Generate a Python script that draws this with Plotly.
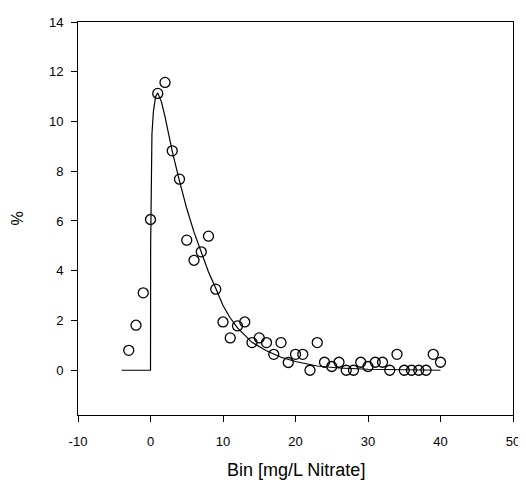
import plotly.graph_objects as go

# observed percentages per nitrate bin
bins = list(range(-3, 41))
pct = [
    0.80, 1.81, 3.11, 6.06, 11.13, 11.57, 8.82, 7.68, 5.23, 4.42,
    4.76, 5.39, 3.26, 1.94, 1.30, 1.78, 1.94, 1.11, 1.30, 1.11,
    0.64, 1.11, 0.31, 0.64, 0.64, 0.00, 1.11, 0.32, 0.15, 0.32,
    0.00, 0.00, 0.32, 0.15, 0.32, 0.32, 0.00, 0.64, 0.00, 0.00,
    0.00, 0.00, 0.64, 0.32,
]

# fitted curve
fit_x = [-4, 0, 0.02, 0.08, 0.2, 0.4, 0.7, 1.0, 1.5, 2, 3, 4, 5, 6, 7, 8, 9,
         10, 11, 12, 14, 16, 18, 20, 23, 26, 30, 35, 40]
fit_y = [0, 0, 5.0, 8.0, 9.5, 10.4, 11.0, 11.15, 10.8, 10.2, 8.8, 7.6, 6.5,
         5.55, 4.75, 3.95, 3.3, 2.6, 2.1, 1.7, 1.12, 0.78, 0.52, 0.35, 0.17,
         0.09, 0.04, 0.01, 0.0]

x_ticks = [-10, 0, 10, 20, 30, 40, 50]
y_ticks = [0, 2, 4, 6, 8, 10, 12, 14]

FONT = "Liberation Sans, Arial"

fig = go.Figure()
fig.add_scatter(
    x=fit_x, y=fit_y, mode="lines",
    line=dict(color="black", width=1.2),
    showlegend=False,
)
fig.add_scatter(
    x=bins, y=pct, mode="markers",
    marker=dict(symbol="circle-open", size=10, color="black", line=dict(width=1.3)),
    showlegend=False,
)

axis_common = dict(
    showline=True, linecolor="black", linewidth=1, mirror=True,
    ticks="outside", ticklen=6, tickcolor="black", tickwidth=1,
    showgrid=False, zeroline=False, automargin=False,
    tickfont=dict(family=FONT, size=13, color="black"),
)

# page has an 8px body margin, so the figure is sized to the visible area
fig.update_layout(
    width=518, height=472,
    margin=dict(l=70, r=13, t=14, b=65),
    plot_bgcolor="white", paper_bgcolor="white",
    xaxis=dict(
        range=[-10, 50], tickvals=x_ticks, ticktext=[str(v) for v in x_ticks],
        ticklabelstandoff=8,
        **axis_common,
    ),
    yaxis=dict(
        range=[-1.8, 14], tickvals=y_ticks, ticktext=[str(v) for v in y_ticks],
        ticklabelstandoff=5,
        **axis_common,
    ),
    annotations=[
        dict(text="Bin [mg/L Nitrate]", xref="paper", yref="paper",
             x=0.5, y=-0.14, xanchor="center", yanchor="middle", showarrow=False,
             font=dict(family=FONT, size=18, color="black")),
        dict(text="%", xref="paper", yref="paper", textangle=-90,
             x=-0.138, y=0.5, xanchor="center", yanchor="middle", showarrow=False,
             font=dict(family=FONT, size=16, color="black")),
    ],
)

fig.write_html("out.html")
